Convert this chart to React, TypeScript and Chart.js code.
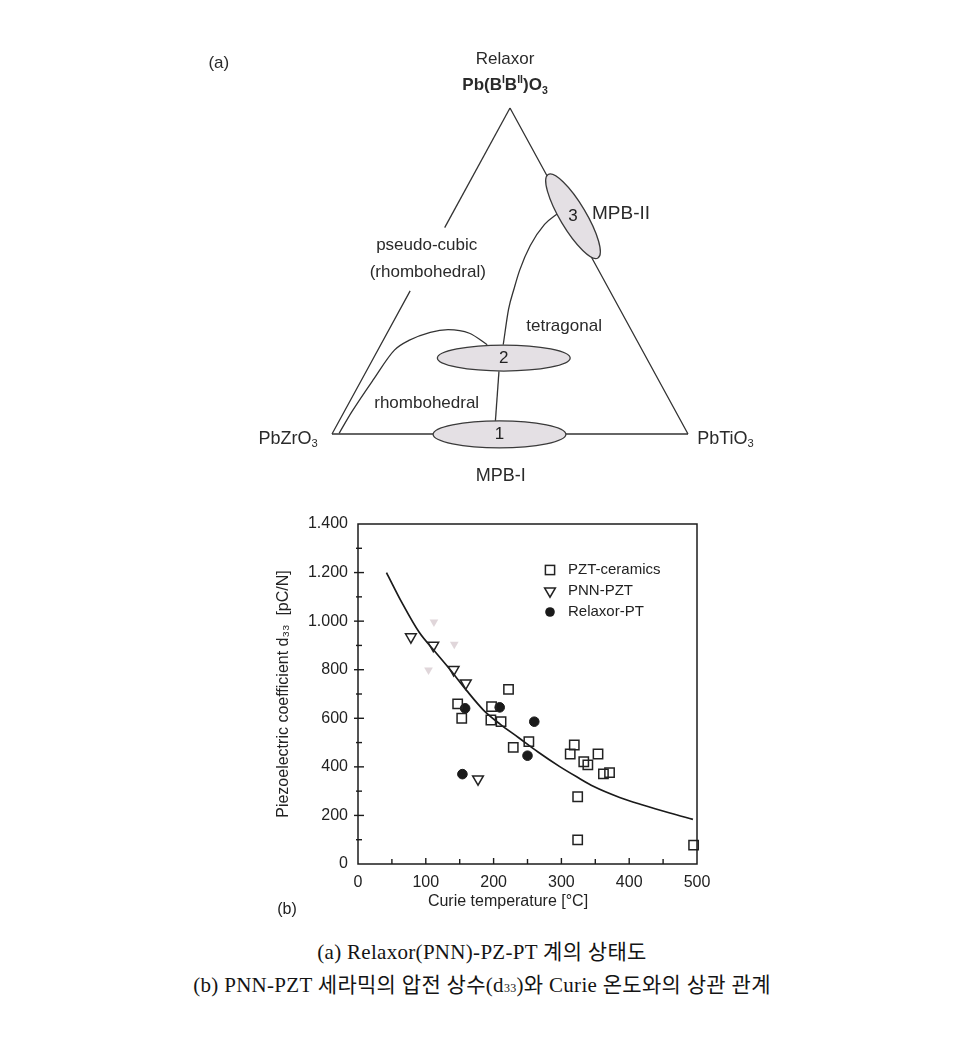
import React, { useEffect, useRef } from "react";
import { Chart, registerables } from "chart.js";

Chart.register(...registerables);

const SANS = "'Liberation Sans', Arial, Helvetica, sans-serif";
const SERIF = "'Liberation Serif', 'Noto Sans CJK KR', serif";

// ---------------- (b) scatter data: Curie temperature [°C] vs d33 [pC/N] ----------------
const seriesLabels = ["PZT-ceramics", "PNN-PZT", "Relaxor-PT"];

const pztCurieT = [147, 153, 222, 197, 196, 211, 229, 252, 319, 313, 354, 333, 339, 362, 371, 324, 324, 495];
const pztD33 = [659, 600, 719, 648, 593, 586, 480, 504, 490, 453, 453, 421, 408, 371, 376, 277, 99, 78];

const pnnCurieT = [78, 111, 141, 159, 177];
const pnnD33 = [935, 900, 800, 745, 350];

const relaxorCurieT = [158, 209, 260, 250, 154];
const relaxorD33 = [641, 645, 586, 446, 370];

// faint (show-through) triangles visible in the scan
const faintCurieT = [112, 142, 104];
const faintD33 = [996, 905, 799];

// fitted trend curve
const fitCurieT = [42, 65, 90, 115, 136, 160, 185, 210, 237, 265, 297, 325, 347, 386, 420, 460, 494];
const fitD33 = [1200, 1075, 955, 870, 800, 715, 634, 575, 520, 462, 402, 355, 320, 274, 243, 210, 184];

const xTickValues = [0, 100, 200, 300, 400, 500];
const xTickLabels = ["0", "100", "200", "300", "400", "500"];
const yTickValues = [0, 200, 400, 600, 800, 1000, 1200, 1400];
const yTickLabels = ["0", "200", "400", "600", "800", "1.000", "1.200", "1.400"];

// ---------------- (a) ternary diagram, in diagram units (base 0..1, height 0..1) ----------------
const triangleBase = [[0, 0], [1, 0]];
const triangleRight = [[1, 0], [0.5, 1]];
const triangleLeftLower = [[0, 0], [0.2195, 0.439]];
const triangleLeftUpper = [[0.3165, 0.633], [0.5, 1]];
const rhomboBoundary = [
  [0.02, 0.002], [0.055, 0.067], [0.115, 0.165], [0.176, 0.258], [0.216, 0.287],
  [0.276, 0.312], [0.326, 0.32], [0.386, 0.309], [0.436, 0.274],
];
const mpbLowerLine = [[0.459, 0.04], [0.469, 0.192]];
const mpbUpperLine = [
  [0.481, 0.274], [0.496, 0.383], [0.512, 0.448], [0.527, 0.502],
  [0.557, 0.578], [0.597, 0.643], [0.637, 0.679],
];
const mpbRegionLabels = ["1", "2", "3"];
const mpbRegionStart = [[0.284, -0.001], [0.296, 0.233], [0.607, 0.796]];
const mpbRegionEnd = [[0.657, -0.001], [0.669, 0.233], [0.747, 0.54]];

type Part = { t: string; sub?: boolean; sup?: boolean };
type DiagramLabel = { parts: Part[]; at: number[]; size: number; align: "left" | "center" | "right"; weight?: string };

const diagramLabels: DiagramLabel[] = [
  { parts: [{ t: "(a)" }], at: [-0.318, 1.137], size: 17, align: "center" },
  { parts: [{ t: "Relaxor" }], at: [0.486, 1.15], size: 17, align: "center" },
  {
    parts: [{ t: "Pb(B" }, { t: "I", sup: true }, { t: "B" }, { t: "II", sup: true }, { t: ")O" }, { t: "3", sub: true }],
    at: [0.486, 1.07], size: 17, align: "center", weight: "bold",
  },
  { parts: [{ t: "pseudo-cubic" }], at: [0.266, 0.58], size: 17, align: "center" },
  { parts: [{ t: "(rhombohedral)" }], at: [0.269, 0.497], size: 17, align: "center" },
  { parts: [{ t: "tetragonal" }], at: [0.652, 0.33], size: 17, align: "center" },
  { parts: [{ t: "rhombohedral" }], at: [0.266, 0.0946], size: 17, align: "center" },
  { parts: [{ t: "PbZrO" }, { t: "3", sub: true }], at: [-0.04, -0.014], size: 18, align: "right" },
  { parts: [{ t: "PbTiO" }, { t: "3", sub: true }], at: [1.026, -0.014], size: 18, align: "left" },
  { parts: [{ t: "MPB-I" }], at: [0.474, -0.128], size: 18, align: "center" },
  { parts: [{ t: "MPB-II" }], at: [0.812, 0.676], size: 19, align: "center" },
];

const ELLIPSE_MINOR_PX = [13.5, 13, 13];

function drawRich(ctx: CanvasRenderingContext2D, parts: Part[], x: number, y: number, size: number, align: string, weight = "normal") {
  const fontFor = (p: Part) => `${weight} ${p.sub || p.sup ? size * 0.62 : size}px ${SANS}`;
  let w = 0;
  parts.forEach((p) => {
    ctx.font = fontFor(p);
    w += ctx.measureText(p.t).width;
  });
  let cx = align === "center" ? x - w / 2 : align === "right" ? x - w : x;
  ctx.textAlign = "left";
  ctx.textBaseline = "middle";
  parts.forEach((p) => {
    ctx.font = fontFor(p);
    const dy = p.sub ? size * 0.32 : p.sup ? -size * 0.3 : 0;
    ctx.fillText(p.t, cx, y + dy);
    cx += ctx.measureText(p.t).width;
  });
}

const toXY = (pts: number[][]) => pts.map((p) => ({ x: p[0], y: p[1] }));

const ternaryDecor = {
  id: "ternaryDecor",
  afterDatasetsDraw(chart: any) {
    const { ctx, scales } = chart;
    const sx = scales.x;
    const sy = scales.y;
    ctx.save();
    mpbRegionStart.forEach((s, i) => {
      const e = mpbRegionEnd[i];
      const x1 = sx.getPixelForValue(s[0]);
      const y1 = sy.getPixelForValue(s[1]);
      const x2 = sx.getPixelForValue(e[0]);
      const y2 = sy.getPixelForValue(e[1]);
      const cx = (x1 + x2) / 2;
      const cy = (y1 + y2) / 2;
      const a = Math.hypot(x2 - x1, y2 - y1) / 2;
      const ang = Math.atan2(y2 - y1, x2 - x1);
      ctx.beginPath();
      ctx.ellipse(cx, cy, a, ELLIPSE_MINOR_PX[i], ang, 0, Math.PI * 2);
      ctx.fillStyle = "#e4e0e4";
      ctx.fill();
      ctx.lineWidth = 1.3;
      ctx.strokeStyle = "#3a3a3a";
      ctx.stroke();
      ctx.fillStyle = "#222";
      drawRich(ctx, [{ t: mpbRegionLabels[i] }], cx, cy, 17, "center");
    });
    ctx.fillStyle = "#2a2a2a";
    diagramLabels.forEach((l) => {
      drawRich(ctx, l.parts, sx.getPixelForValue(l.at[0]), sy.getPixelForValue(l.at[1]), l.size, l.align, l.weight || "normal");
    });
    ctx.restore();
  },
};

const scatterDecor = {
  id: "scatterDecor",
  afterDraw(chart: any) {
    const { ctx, chartArea, scales } = chart;
    const { left, right, top, bottom } = chartArea;
    const sx = scales.x;
    const sy = scales.y;
    ctx.save();
    ctx.strokeStyle = "#1c1c1c";
    ctx.lineWidth = 1.5;
    ctx.strokeRect(left, top, right - left, bottom - top);
    ctx.lineWidth = 1.4;
    sy.ticks.forEach((t: any) => {
      if (t.value <= sy.min || t.value >= sy.max) return;
      const py = sy.getPixelForValue(t.value);
      const major = yTickValues.includes(t.value);
      ctx.beginPath();
      ctx.moveTo(left - (major ? 4 : 2), py);
      ctx.lineTo(left + (major ? 6 : 4), py);
      ctx.stroke();
    });
    sx.ticks.forEach((t: any) => {
      if (t.value <= sx.min || t.value >= sx.max) return;
      const px = sx.getPixelForValue(t.value);
      const major = xTickValues.includes(t.value);
      ctx.beginPath();
      ctx.moveTo(px, bottom);
      ctx.lineTo(px, bottom - (major ? 6 : 5));
      ctx.stroke();
    });
    // legend
    const mx = right - 147;
    const rows = [top + 46, top + 67, top + 88];
    ctx.strokeStyle = "#222";
    ctx.lineWidth = 1.5;
    ctx.strokeRect(mx - 4.6, rows[0] - 4.6, 9.2, 9.2);
    ctx.beginPath();
    ctx.moveTo(mx - 5.4, rows[1] - 3.1);
    ctx.lineTo(mx + 5.4, rows[1] - 3.1);
    ctx.lineTo(mx, rows[1] + 6.2);
    ctx.closePath();
    ctx.stroke();
    ctx.beginPath();
    ctx.arc(mx, rows[2], 4.8, 0, Math.PI * 2);
    ctx.fillStyle = "#1a1a1a";
    ctx.fill();
    ctx.fillStyle = "#222";
    ctx.font = `15px ${SANS}`;
    ctx.textAlign = "left";
    ctx.textBaseline = "middle";
    seriesLabels.forEach((s, i) => ctx.fillText(s, mx + 18, rows[i]));
    // x title and panel tag
    ctx.font = `16px ${SANS}`;
    ctx.textAlign = "center";
    ctx.fillText("Curie temperature [°C]", left + 150, bottom + 38);
    ctx.fillText("(b)", left - 71, bottom + 46);
    ctx.restore();
  },
};

function TernaryDiagram() {
  const ref = useRef<HTMLCanvasElement | null>(null);
  useEffect(() => {
    if (!ref.current) return;
    const line = (pts: number[][]) => ({
      data: toXY(pts),
      showLine: true,
      borderColor: "#333",
      borderWidth: 1.3,
      pointRadius: 0,
      tension: 0.4,
      cubicInterpolationMode: "monotone" as const,
      fill: false,
      clip: false as any,
    });
    const chart = new Chart(ref.current, {
      type: "scatter",
      data: {
        datasets: [
          line(triangleBase),
          line(triangleRight),
          line(triangleLeftLower),
          line(triangleLeftUpper),
          line(rhomboBoundary),
          line(mpbLowerLine),
          line(mpbUpperLine),
        ],
      },
      options: {
        animation: false,
        responsive: true,
        maintainAspectRatio: false,
        events: [],
        layout: { padding: { left: 152, right: 72, top: 78, bottom: 61 } },
        plugins: { legend: { display: false }, tooltip: { enabled: false } },
        scales: {
          x: { type: "linear", min: 0, max: 1, display: false },
          y: { type: "linear", min: 0, max: 1, display: false },
        },
      },
      plugins: [ternaryDecor],
    });
    return () => chart.destroy();
  }, []);
  return (
    <div style={{ position: "absolute", left: 172, top: 22, width: 580, height: 465 }}>
      <canvas ref={ref} />
    </div>
  );
}

function ScatterChart() {
  const ref = useRef<HTMLCanvasElement | null>(null);
  useEffect(() => {
    if (!ref.current) return;
    const pts = (xs: number[], ys: number[]) => xs.map((v, i) => ({ x: v, y: ys[i] }));
    const chart = new Chart(ref.current, {
      type: "scatter",
      data: {
        datasets: [
          {
            label: seriesLabels[0],
            data: pts(pztCurieT, pztD33),
            pointStyle: "rect",
            pointRadius: 6.6,
            borderWidth: 1.5,
            borderColor: "#222",
            backgroundColor: "rgba(255,255,255,0)",
            clip: false as any,
          },
          {
            label: seriesLabels[1],
            data: pts(pnnCurieT, pnnD33),
            pointStyle: "triangle",
            rotation: 180,
            pointRadius: 6.2,
            borderWidth: 1.5,
            borderColor: "#222",
            backgroundColor: "rgba(255,255,255,0)",
            clip: false as any,
          },
          {
            label: seriesLabels[2],
            data: pts(relaxorCurieT, relaxorD33),
            pointStyle: "circle",
            pointRadius: 4.8,
            borderWidth: 1,
            borderColor: "#1a1a1a",
            backgroundColor: "#1a1a1a",
            clip: false as any,
          },
          {
            label: "faint",
            data: pts(faintCurieT, faintD33),
            pointStyle: "triangle",
            rotation: 180,
            pointRadius: 5,
            borderWidth: 0,
            borderColor: "rgba(0,0,0,0)",
            backgroundColor: "rgba(214,200,205,0.75)",
          },
          {
            label: "fit",
            data: pts(fitCurieT, fitD33),
            showLine: true,
            pointRadius: 0,
            borderColor: "#1a1a1a",
            borderWidth: 1.7,
            tension: 0.4,
            cubicInterpolationMode: "monotone",
            fill: false,
          },
        ],
      },
      options: {
        animation: false,
        responsive: true,
        maintainAspectRatio: false,
        events: [],
        layout: { padding: { left: 0, right: 43, top: 29, bottom: 0 } },
        plugins: { legend: { display: false }, tooltip: { enabled: false } },
        scales: {
          x: {
            type: "linear",
            min: 0,
            max: 500,
            afterFit: (s: any) => {
              s.height = 56;
            },
            grid: { display: false, drawTicks: false },
            border: { display: false },
            ticks: {
              stepSize: 50,
              autoSkip: false,
              maxRotation: 0,
              padding: 9,
              color: "#222",
              font: { family: SANS, size: 16 },
              callback: (v: any) => {
                const i = xTickValues.indexOf(Number(v));
                return i >= 0 ? xTickLabels[i] : "";
              },
            },
          },
          y: {
            type: "linear",
            min: 0,
            max: 1400,
            afterFit: (s: any) => {
              s.width = 158;
            },
            grid: { display: false, drawTicks: false },
            border: { display: false },
            title: {
              display: true,
              text: "Piezoelectric coefficient d\u2083\u2083  [pC/N]",
              color: "#222",
              font: { family: SANS, size: 16 },
              padding: { top: 74, bottom: 0 },
            },
            ticks: {
              stepSize: 100,
              autoSkip: false,
              padding: 10,
              color: "#222",
              font: { family: SANS, size: 16 },
              callback: (v: any) => {
                const i = yTickValues.indexOf(Number(v));
                return i >= 0 ? yTickLabels[i] : "";
              },
            },
          },
        },
      },
      plugins: [scatterDecor],
    });
    return () => chart.destroy();
  }, []);
  return (
    <div style={{ position: "absolute", left: 192, top: 487, width: 540, height: 425 }}>
      <canvas ref={ref} />
    </div>
  );
}

export default function App() {
  const caption: React.CSSProperties = {
    position: "absolute",
    left: 0,
    width: 948,
    textAlign: "center",
    fontFamily: SERIF,
    fontSize: 21,
    lineHeight: "24px",
    color: "#141414",
    whiteSpace: "nowrap",
    letterSpacing: 0.3,
  };
  return (
    <div style={{ position: "relative", width: 948, height: 1028, background: "#fff" }}>
      <TernaryDiagram />
      <ScatterChart />
      <div style={{ ...caption, top: 932 }}>(a) Relaxor(PNN)-PZ-PT 계의 상태도</div>
      <div style={{ ...caption, top: 965 }}>
        (b) PNN-PZT 세라믹의 압전 상수(d<span style={{ fontSize: 12 }}>33</span>)와 Curie 온도와의 상관 관계
      </div>
    </div>
  );
}
